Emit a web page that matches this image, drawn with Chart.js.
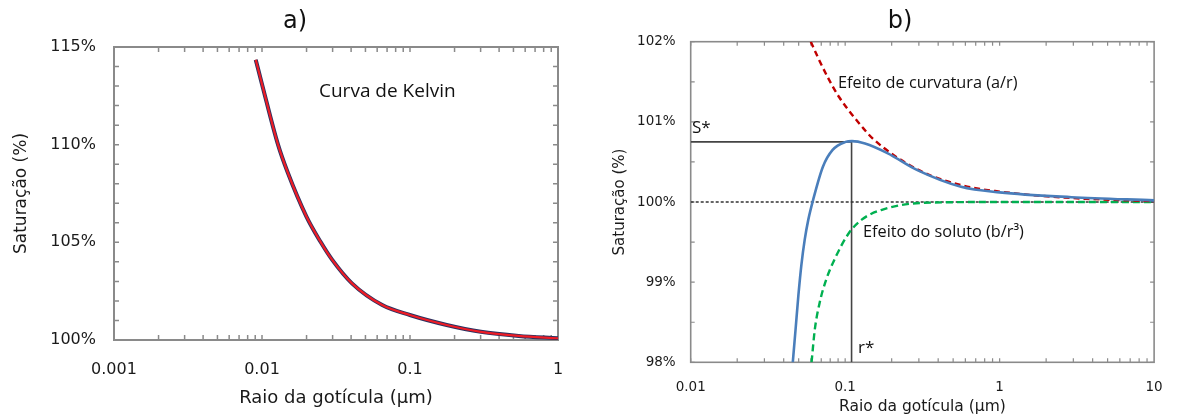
<!DOCTYPE html>
<html lang="pt">
<head>
<meta charset="utf-8">
<script src="https://cdn.jsdelivr.net/npm/chart.js@4.4.1/dist/chart.umd.min.js"></script>
<style>
  html, body { margin: 0; padding: 0; background: #fff; }
  .painel { display: flex; width: 1180px; height: 418px; }
  .painel canvas { display: block; }
</style>
</head>
<body>
<div class="painel">
  <canvas id="graficoKelvin" width="590" height="418"></canvas>
  <canvas id="graficoKohler" width="590" height="418"></canvas>
</div>
<script>
// ---- a) curva de Kelvin ----
const raioKelvin = [0.00907, 0.00996, 0.01283, 0.01488, 0.01996, 0.02498, 0.02983, 0.04053, 0.0649, 0.0998, 0.177, 0.301, 0.542, 1];
const saturKelvin = [114.35, 113.15, 110.0, 108.6, 106.32, 105.0, 104.10, 102.90, 101.79, 101.28, 100.77, 100.42, 100.21, 100.09];
const ticksXA = [0.001, 0.01, 0.1, 1];
const rotulosXA = ["0.001", "0.01", "0.1", "1"];
const ticksYA = [100, 105, 110, 115];

// ---- b) curva de Köhler ----
const raioKohler = [0.0458, 0.04769, 0.04982, 0.05203, 0.05472, 0.05773, 0.06209, 0.07177, 0.08294, 0.1006, 0.1108, 0.1344, 0.1876, 0.291, 0.562, 1, 2.92, 10];
const saturKohler = [98.0, 98.40, 98.84, 99.21, 99.53, 99.78, 100.03, 100.44, 100.65, 100.75, 100.76, 100.73, 100.61, 100.40, 100.19, 100.12, 100.06, 100.02];
const raioCurvatura = [0.0599, 0.0683, 0.0789, 0.0913, 0.131, 0.151, 0.291, 0.562, 1, 2.92, 10];
const saturCurvatura = [102.0, 101.76, 101.52, 101.31, 100.92, 100.79, 100.41, 100.21, 100.13, 100.05, 100.01];
const raioSoluto = [0.0606, 0.0635, 0.0683, 0.0753, 0.0871, 0.1055, 0.128, 0.171, 0.325, 1, 10];
const saturSoluto = [98.0, 98.40, 98.74, 99.03, 99.32, 99.61, 99.78, 99.90, 99.99, 100.0, 100.0];
const raioRef = [0.01, 10];
const saturRef = [100, 100];
const rEstrela = 0.11;
const sEstrela = 100.75;
const ticksXB = [0.01, 0.1, 1, 10];
const rotulosXB = ["0.01", "0.1", "1", "10"];
const ticksYB = [98, 99, 100, 101, 102];

function pontos(xs, ys) {
    return xs.map((x, i) => ({ x: x, y: ys[i] }));
}

// moldura cinzenta com marcas para dentro (maiores e menores)
const moldura = {
    id: "moldura",
    beforeDatasetsDraw(chart, args, opts) {
        const { ctx, chartArea: a, scales: { x, y } } = chart;
        ctx.save();
        ctx.strokeStyle = opts.cor;
        ctx.lineWidth = opts.larguraTick;
        ctx.beginPath();
        const decadas = opts.decadas;
        for (let d = 0; d < decadas.length - 1; d++) {
            for (let k = 1; k <= 9; k++) {
                const px = x.getPixelForValue(decadas[d] * k);
                ctx.moveTo(px, a.bottom); ctx.lineTo(px, a.bottom - opts.tam);
                ctx.moveTo(px, a.top); ctx.lineTo(px, a.top + opts.tam);
            }
        }
        for (let v = y.min; v <= y.max + 1e-9; v += opts.passoY) {
            const py = y.getPixelForValue(v);
            ctx.moveTo(a.left, py); ctx.lineTo(a.left + opts.tam, py);
            ctx.moveTo(a.right, py); ctx.lineTo(a.right - opts.tam, py);
        }
        ctx.stroke();
        ctx.lineWidth = opts.larguraBorda;
        ctx.strokeRect(a.left, a.top, a.width, a.height);
        ctx.restore();
    }
};

// textos soltos (títulos a) b) e anotações)
const rotulos = {
    id: "rotulos",
    afterDatasetsDraw(chart, args, opts) {
        const ctx = chart.ctx;
        ctx.save();
        ctx.textBaseline = "middle";
        opts.itens.forEach(function (t) {
            ctx.font = t.fonte;
            ctx.fillStyle = t.cor || "#111";
            ctx.textAlign = t.alinha || "left";
            ctx.fillText(t.texto, t.x, t.y);
        });
        ctx.restore();
    }
};

const fonteTick = (tam) => ({ family: "DejaVu Sans", size: tam });

function eixoX(min, max, ticks, rotulos, altura, fTick, padTick, fTitulo, padTitulo) {
    return {
        type: "logarithmic", min: min, max: max,
        afterFit: s => { s.height = altura; },
        afterBuildTicks: s => { s.ticks = ticks.map(v => ({ value: v })); },
        grid: { display: false, drawTicks: false },
        border: { display: false },
        ticks: { autoSkip: false, maxRotation: 0, padding: padTick, color: "#1a1a1a", font: fonteTick(fTick), callback: (v, i) => rotulos[i] },
        title: { display: true, text: "Raio da gotícula (µm)", color: "#1a1a1a", font: fonteTick(fTitulo), padding: { top: 0, bottom: padTitulo } }
    };
}

function eixoY(min, max, ticks, largura, fTick, padTick, fTitulo, padTitulo) {
    return {
        min: min, max: max,
        afterFit: s => { s.width = largura; },
        afterBuildTicks: s => { s.ticks = ticks.map(v => ({ value: v })); },
        grid: { display: false, drawTicks: false },
        border: { display: false },
        ticks: { padding: padTick, color: "#1a1a1a", font: fonteTick(fTick), callback: v => v + "%" },
        title: { display: true, text: "Saturação (%)", color: "#1a1a1a", font: fonteTick(fTitulo), padding: { top: padTitulo, bottom: 0 } }
    };
}

new Chart(document.getElementById("graficoKelvin"), {
    type: "line",
    data: {
        datasets: [
            { data: pontos(raioKelvin, saturKelvin), borderColor: "#ee1c25", borderWidth: 2.2, pointRadius: 0, cubicInterpolationMode: "monotone" },
            { data: pontos(raioKelvin, saturKelvin), borderColor: "#2b3160", borderWidth: 4, pointRadius: 0, cubicInterpolationMode: "monotone" }
        ]
    },
    options: {
        responsive: false, animation: false,
        layout: { padding: { top: 47, right: 32, left: 0, bottom: 0 } },
        plugins: {
            legend: { display: false }, tooltip: { enabled: false },
            moldura: { cor: "#8a8a8a", larguraTick: 1.5, larguraBorda: 2, tam: 5, passoY: 1, decadas: ticksXA },
            rotulos: { itens: [
                { texto: "a)", x: 295, y: 22, fonte: "24px 'DejaVu Sans'", alinha: "center" },
                { texto: "Curva de Kelvin", x: 319, y: 92, fonte: "19px 'Open Sans'" }
            ] }
        },
        scales: {
            x: eixoX(0.001, 1, ticksXA, rotulosXA, 78, 16, 20, 18, 9),
            y: eixoY(100, 115, ticksYA, 114, 16, 18, 17, 11)
        }
    },
    plugins: [moldura, rotulos]
});

new Chart(document.getElementById("graficoKohler"), {
    type: "line",
    data: {
        datasets: [
            { data: pontos(raioKohler, saturKohler), borderColor: "#4a7ebb", borderWidth: 2.6, pointRadius: 0, cubicInterpolationMode: "monotone" },
            { data: pontos(raioCurvatura, saturCurvatura), borderColor: "#c00000", borderWidth: 2.4, borderDash: [6, 4], pointRadius: 0, cubicInterpolationMode: "monotone" },
            { data: pontos(raioSoluto, saturSoluto), borderColor: "#00b050", borderWidth: 2.4, borderDash: [7, 4], pointRadius: 0, cubicInterpolationMode: "monotone" },
            { data: pontos(raioRef, saturRef), borderColor: "#333", borderWidth: 1.3, borderDash: [3, 2], pointRadius: 0 },
            { data: [{ x: 0.01, y: sEstrela }, { x: rEstrela, y: sEstrela }, { x: rEstrela, y: 98 }], borderColor: "#444", borderWidth: 1.6, pointRadius: 0 }
        ]
    },
    options: {
        responsive: false, animation: false,
        layout: { padding: { top: 41.7, right: 12.7, left: 0, bottom: 0 } },
        plugins: {
            legend: { display: false }, tooltip: { enabled: false },
            moldura: { cor: "#8a8a8a", larguraTick: 1.2, larguraBorda: 1.6, tam: 4, passoY: 0.5, decadas: ticksXB },
            rotulos: { itens: [
                { texto: "b)", x: 310, y: 22, fonte: "24px 'DejaVu Sans'", alinha: "center" },
                { texto: "S*", x: 102, y: 128, fonte: "17px 'Open Sans'" },
                { texto: "r*", x: 268, y: 348, fonte: "17px 'Open Sans'" },
                { texto: "Efeito de curvatura (a/r)", x: 248, y: 83, fonte: "16.3px 'Open Sans'" },
                { texto: "Efeito do soluto (b/r³)", x: 273, y: 232, fonte: "16.3px 'Open Sans'" }
            ] }
        },
        scales: {
            x: eixoX(0.01, 10, ticksXB, rotulosXB, 55.7, 13.5, 17.3, 15.5, 1.4),
            y: eixoY(98, 102, ticksYB, 100.7, 13.5, 15, 15, 21)
        }
    },
    plugins: [moldura, rotulos]
});
</script>
</body>
</html>
